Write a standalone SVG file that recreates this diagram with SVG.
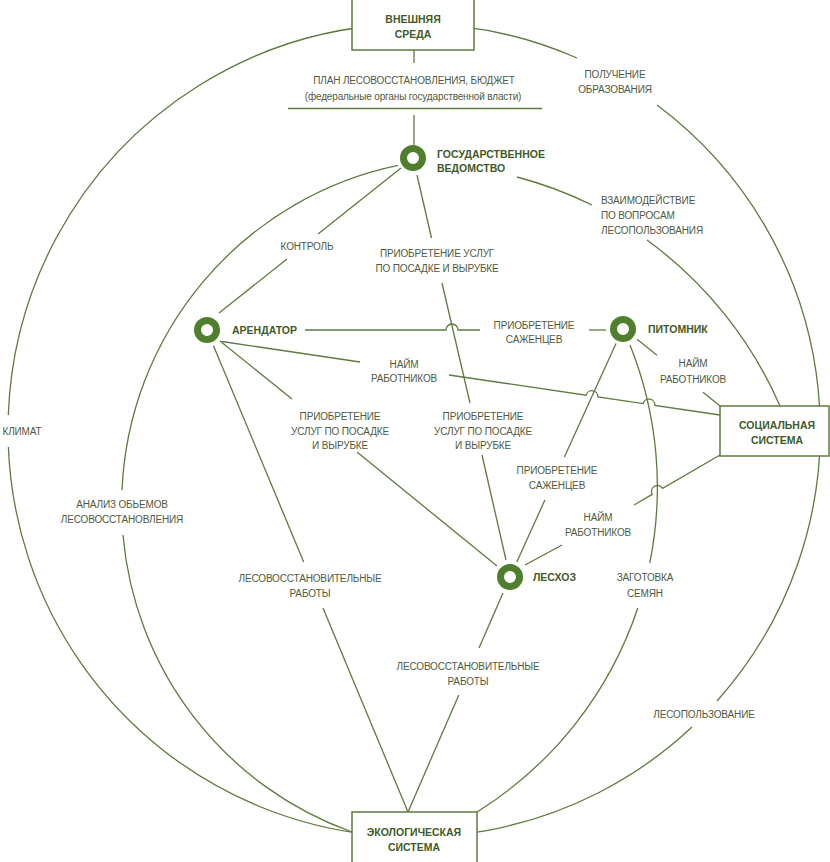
<svg xmlns="http://www.w3.org/2000/svg" width="830" height="862" viewBox="0 0 830 862">
<style>
.ln{fill:none;stroke:#5e7a3e;stroke-width:1.3}
.box{fill:#fff;stroke:#5e7a3e;stroke-width:1.5}
.ring{fill:none;stroke:#4f7f2c;stroke-width:7}
.t{font-family:"Liberation Sans",Arial,sans-serif;font-size:10px;letter-spacing:-0.15px;fill:#4f5a41;text-anchor:middle}
.l{text-anchor:start}
.b{font-family:"Liberation Sans",Arial,sans-serif;font-size:10.5px;font-weight:bold;fill:#3f5a28}
.bc{text-anchor:middle}
</style>
<rect width="830" height="862" fill="#fff"/>
<g id="connectors">
  <path class="ln" d="M8.3 415 A406 406 0 0 1 577 58"/>
  <path class="ln" d="M657 105 A406 406 0 0 1 717 701"/>
  <path class="ln" d="M692 727 A406 406 0 0 1 8.4 447"/>
  <path class="ln" d="M398 165.4 A347 347 0 0 0 122 490"/>
  <path class="ln" d="M123 535 A347 347 0 0 0 352 832"/>
  <path class="ln" d="M630 345 A383 383 0 0 1 649.8 563"/>
  <path class="ln" d="M637.8 608 A383 383 0 0 1 477 812"/>
  <path class="ln" d="M517 177 A406 406 0 0 1 592 205"/>
  <path class="ln" d="M647 240 A406 406 0 0 1 780 406"/>
  <path class="ln" d="M414 50 V63"/>
  <path class="ln" d="M288 108.5 H542"/>
  <path class="ln" d="M414 115 V145"/>
  <path class="ln" d="M401 168 L318 234"/>
  <path class="ln" d="M287 259 L219 313"/>
  <path class="ln" d="M417 175 L431.5 238"/>
  <path class="ln" d="M442 283 L470 403"/>
  <path class="ln" d="M482 455 L506 560"/>
  <path class="ln" d="M305 330 H446 A6 6 0 0 1 458 330 H480"/>
  <path class="ln" d="M589 330 H606"/>
  <path class="ln" d="M222 341.5 L360 362"/>
  <path class="ln" d="M449 375 L586.1 395.2 A6 6 0 0 1 597.9 397 L643.1 403.6 A6 6 0 0 1 654.9 405.4 L720 415"/>
  <path class="ln" d="M220 341 L292 399"/>
  <path class="ln" d="M357 452 L497 566"/>
  <path class="ln" d="M213.5 345.7 L303.7 562"/>
  <path class="ln" d="M323 608 L408 812"/>
  <path class="ln" d="M503 593 L479 648"/>
  <path class="ln" d="M458.8 695 L408 812"/>
  <path class="ln" d="M616 343.5 L564.4 457"/>
  <path class="ln" d="M544.9 500 L516.8 562"/>
  <path class="ln" d="M637 339.3 L657 355.3"/>
  <path class="ln" d="M703 392.3 L720 406"/>
  <path class="ln" d="M634 505 L652.2 494.4 A6 6 0 0 1 662.6 488.4 L720 455"/>
  <path class="ln" d="M562 545 L525 565"/>
</g>
<g id="labels">
  <text class="t" x="414" y="84">ПЛАН ЛЕСОВОССТАНОВЛЕНИЯ, БЮДЖЕТ</text>
  <text class="t" x="413" y="100">(федеральные органы государственной власти)</text>
  <text class="t" x="615" y="78">ПОЛУЧЕНИЕ</text>
  <text class="t" x="615" y="93">ОБРАЗОВАНИЯ</text>
  <text class="t l" x="601" y="204">ВЗАИМОДЕЙСТВИЕ</text>
  <text class="t l" x="601" y="219">ПО ВОПРОСАМ</text>
  <text class="t l" x="601" y="234">ЛЕСОПОЛЬЗОВАНИЯ</text>
  <text class="t" x="307" y="250">КОНТРОЛЬ</text>
  <text class="t" x="437" y="257">ПРИОБРЕТЕНИЕ УСЛУГ</text>
  <text class="t" x="437" y="272">ПО ПОСАДКЕ И ВЫРУБКЕ</text>
  <text class="t" x="534" y="329">ПРИОБРЕТЕНИЕ</text>
  <text class="t" x="534" y="343">САЖЕНЦЕВ</text>
  <text class="t" x="404" y="368">НАЙМ</text>
  <text class="t" x="404" y="382">РАБОТНИКОВ</text>
  <text class="t" x="693" y="367">НАЙМ</text>
  <text class="t" x="693" y="383">РАБОТНИКОВ</text>
  <text class="t" x="340" y="420">ПРИОБРЕТЕНИЕ</text>
  <text class="t" x="340" y="435">УСЛУГ ПО ПОСАДКЕ</text>
  <text class="t" x="340" y="449">И ВЫРУБКЕ</text>
  <text class="t" x="483" y="420">ПРИОБРЕТЕНИЕ</text>
  <text class="t" x="483" y="435">УСЛУГ ПО ПОСАДКЕ</text>
  <text class="t" x="483" y="449">И ВЫРУБКЕ</text>
  <text class="t" x="22" y="435">КЛИМАТ</text>
  <text class="t" x="557" y="474">ПРИОБРЕТЕНИЕ</text>
  <text class="t" x="557" y="489">САЖЕНЦЕВ</text>
  <text class="t" x="122" y="508">АНАЛИЗ ОБЬЕМОВ</text>
  <text class="t" x="122" y="523">ЛЕСОВОССТАНОВЛЕНИЯ</text>
  <text class="t" x="598" y="521">НАЙМ</text>
  <text class="t" x="598" y="536">РАБОТНИКОВ</text>
  <text class="t" x="310" y="582">ЛЕСОВОССТАНОВИТЕЛЬНЫЕ</text>
  <text class="t" x="310" y="597">РАБОТЫ</text>
  <text class="t" x="645" y="581">ЗАГОТОВКА</text>
  <text class="t" x="645" y="597">СЕМЯН</text>
  <text class="t" x="468" y="670">ЛЕСОВОССТАНОВИТЕЛЬНЫЕ</text>
  <text class="t" x="468" y="685">РАБОТЫ</text>
  <text class="t" x="704" y="718">ЛЕСОПОЛЬЗОВАНИЕ</text>
</g>
<g id="external">
  <rect class="box" x="352" y="-1" width="122" height="51"/>
  <text class="b bc" x="413" y="23">ВНЕШНЯЯ</text>
  <text class="b bc" x="413" y="38">СРЕДА</text>
</g>
<g id="social">
  <rect class="box" x="720" y="406" width="109" height="50"/>
  <text class="b bc" x="777" y="429">СОЦИАЛЬНАЯ</text>
  <text class="b bc" x="777" y="444">СИСТЕМА</text>
</g>
<g id="eco">
  <rect class="box" x="352" y="812" width="125" height="56"/>
  <text class="b bc" x="414" y="836">ЭКОЛОГИЧЕСКАЯ</text>
  <text class="b bc" x="414" y="851">СИСТЕМА</text>
</g>
<g id="gov">
  <circle class="ring" cx="413" cy="158" r="9.5"/>
  <text class="b" x="437" y="158">ГОСУДАРСТВЕННОЕ</text>
  <text class="b" x="437" y="172">ВЕДОМСТВО</text>
</g>
<g id="arendator">
  <circle class="ring" cx="207" cy="330" r="9.5"/>
  <text class="b" x="232" y="334">АРЕНДАТОР</text>
</g>
<g id="pitomnik">
  <circle class="ring" cx="623" cy="329" r="9.5"/>
  <text class="b" x="648" y="333">ПИТОМНИК</text>
</g>
<g id="leskhoz">
  <circle class="ring" cx="510" cy="577" r="9.5"/>
  <text class="b" x="533" y="581">ЛЕСХОЗ</text>
</g>
</svg>
